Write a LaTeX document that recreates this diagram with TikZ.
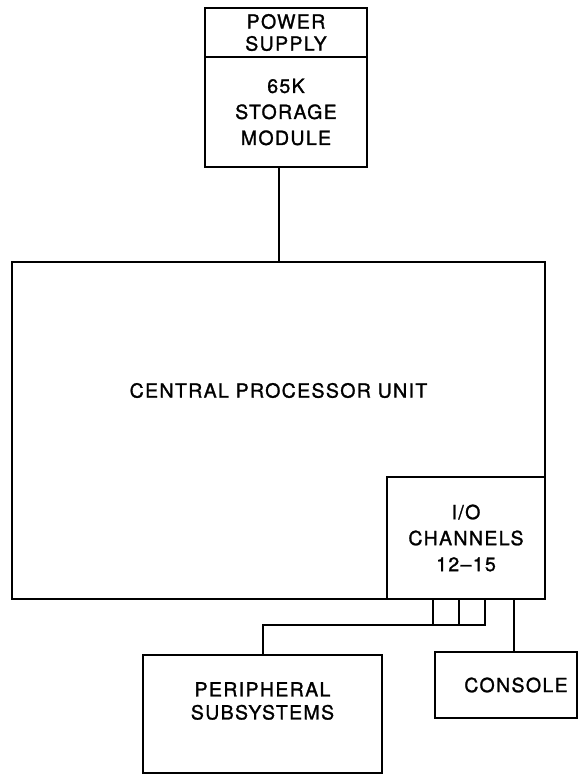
\documentclass[tikz,border=0pt]{standalone}
\usepackage{fontspec}
\setmainfont{TeX Gyre Heros}[LetterSpace=7,FakeBold=1.3]
\usetikzlibrary{positioning,calc}

\begin{document}
\begin{tikzpicture}[x=1pt,y=-1pt,line width=2pt,line join=miter,
  unit/.style={draw,rectangle,inner sep=0pt,outer sep=0pt,align=center,font=\fontsize{19.5}{26}\selectfont},
  tag/.style={align=center,font=\fontsize{19.5}{23}\selectfont}]
\useasboundingbox (0,0) rectangle (583,774);
% Storage stack above the processor.
\node[unit,anchor=north,minimum width=162pt,minimum height=49pt,
  font=\fontsize{19.5}{22}\selectfont] (power) at (286,8) {POWER\\SUPPLY};
\node[unit,anchor=north,minimum width=162pt,minimum height=110pt] (storage) at (power.south)
  {65K\\STORAGE\\MODULE};
% Processor, with the channel block in its lower right corner.
\node[unit,anchor=north west,minimum width=533pt,minimum height=337pt,
  label={[tag,yshift=40pt]center:CENTRAL PROCESSOR UNIT}] (cpu) at (12,262) {};
\node[unit,anchor=south east,minimum width=158pt,minimum height=122pt] (io) at (cpu.south east)
  {I/O\\CHANNELS\\12--15};
% Units below.
\node[unit,anchor=north west,minimum width=239pt,minimum height=118pt,
  label={[tag,yshift=13pt]center:PERIPHERAL\\SUBSYSTEMS}] (periph) at (143,655) {};
\node[unit,anchor=north west,minimum width=142pt,minimum height=66pt,
  label={[tag,xshift=10pt]center:CONSOLE}] (console) at (435,652) {};
% Channel stubs.
\coordinate (ch1) at ($(io.south west)+(46,0)$);
\coordinate (ch2) at ($(io.south west)+(72,0)$);
\coordinate (ch3) at ($(io.south west)+(98,0)$);
\coordinate (ch4) at ($(io.south west)+(127,0)$);
\coordinate (bus) at ($(ch3)+(0,26)$);
\draw (cpu.north) -- (cpu.north |- storage.south);
\draw (ch1) -- (ch1 |- bus);
\draw (ch2) -- (ch2 |- bus);
\draw (ch3) -- (bus) -| (periph.north);
\draw (ch4) -- (ch4 |- console.north);
\end{tikzpicture}
\end{document}
